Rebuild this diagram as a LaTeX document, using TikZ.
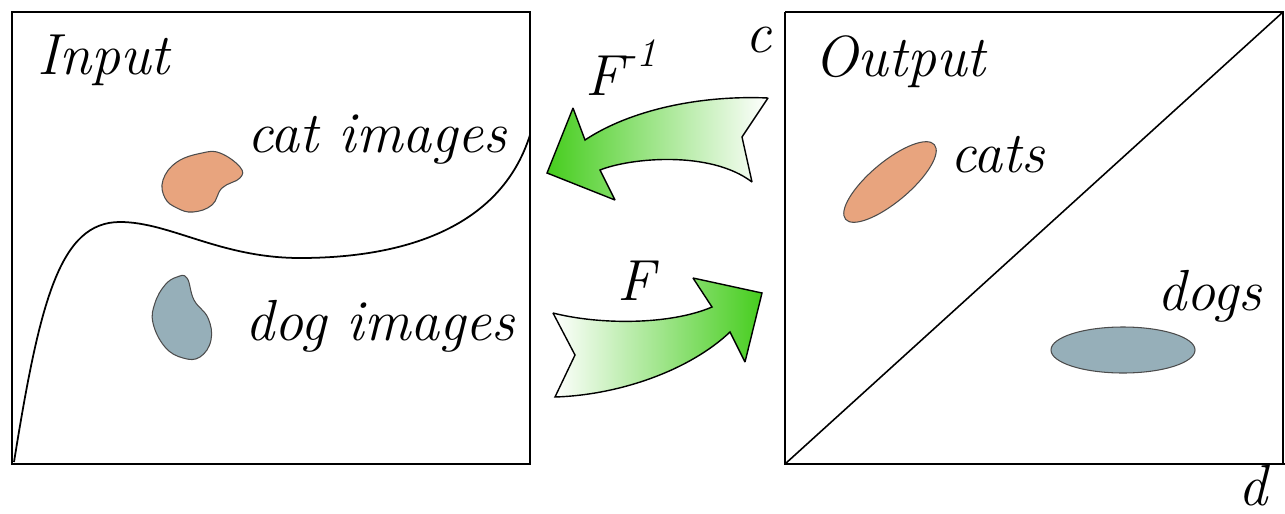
\documentclass[tikz,border=0pt]{standalone}
\usepackage{fontspec}
\definecolor{arrgreen}{RGB}{70,205,30}
\definecolor{catcol}{RGB}{232,164,126}
\definecolor{dogcol}{RGB}{150,175,185}
\begin{document}
\begin{tikzpicture}[x=0.02cm,y=-0.02cm,
  lbl/.style={anchor=base west,inner sep=0pt,font=\fontsize{33}{38}\selectfont\itshape},
  frame/.style={draw,line width=1.1pt},
  blob/.style={draw=black!70,line width=0.6pt},
  bigarrow/.style={draw,line width=0.8pt,line join=miter,miter limit=2}]
\useasboundingbox (0,0) rectangle (1285,514);
% boxes
\draw[frame] (12,12) rectangle (530,464);
\draw[frame] (785,12) -- (785,464) -- (1285,464);
\draw[frame] (785,12) -- (1283,12) -- (1283,464);
\draw[line width=0.9pt] (785,464) -- (1283,12);
% curve
\draw[line width=1pt] (14,462) .. controls (40,300) and (60,222) .. (120,222)
  .. controls (170,222) and (220,258) .. (300,258)
  .. controls (400,258) and (500,230) .. (530,135);
% blobs
\filldraw[blob,fill=catcol] plot[smooth cycle,tension=0.7] coordinates {(163,180) (177,162) (202,153) (220,153) (240,167) (240,178) (222,188) (212,205) (193,212) (177,208) (165,198)};
\filldraw[blob,fill=dogcol] plot[smooth cycle,tension=0.7] coordinates {(177,277) (187,278) (194,300) (208,318) (211,340) (200,357) (183,358) (165,347) (153,323) (155,303) (165,285)};
\filldraw[blob,fill=catcol,rotate around={40:(890,182)}] (890,182) ellipse [x radius=58, y radius=20];
\filldraw[blob,fill=dogcol] (1123,350) ellipse [x radius=72, y radius=23];
% arrows
\draw[bigarrow,left color=arrgreen,right color=white]
  (768,98) .. controls (700,95) and (630,110) .. (585,140) -- (573,108) -- (547,173)
  -- (615,200) -- (600,170) .. controls (630,158) and (710,150) .. (752,182) -- (742,137) -- cycle;
\draw[bigarrow,left color=white,right color=arrgreen]
  (553,313) .. controls (600,325) and (670,325) .. (712,307) -- (693,278) -- (762,293)
  -- (745,362) -- (730,332) .. controls (690,370) and (620,395) .. (555,397) -- (575,355) -- cycle;
% labels
\node[lbl] (in) at (37,74) {Input};
\node[lbl] (cati) at (247,152) {cat images};
\node[lbl] (dogi) at (245,340) {dog images};
\node[lbl] (out) at (814,76) {Output};
\node[lbl] (cats) at (950,172) {cats};
\node[lbl] (dogs) at (1157,310) {dogs};
\node[lbl] (c) at (745,52) {c};
\node[lbl] (d) at (1238,505) {d};
\node[lbl] (finv) at (585,95) {F\raisebox{0.5em}{\fontsize{23}{25}\selectfont -1}};
\node[lbl] (f) at (617,300) {F};
\end{tikzpicture}
\end{document}
